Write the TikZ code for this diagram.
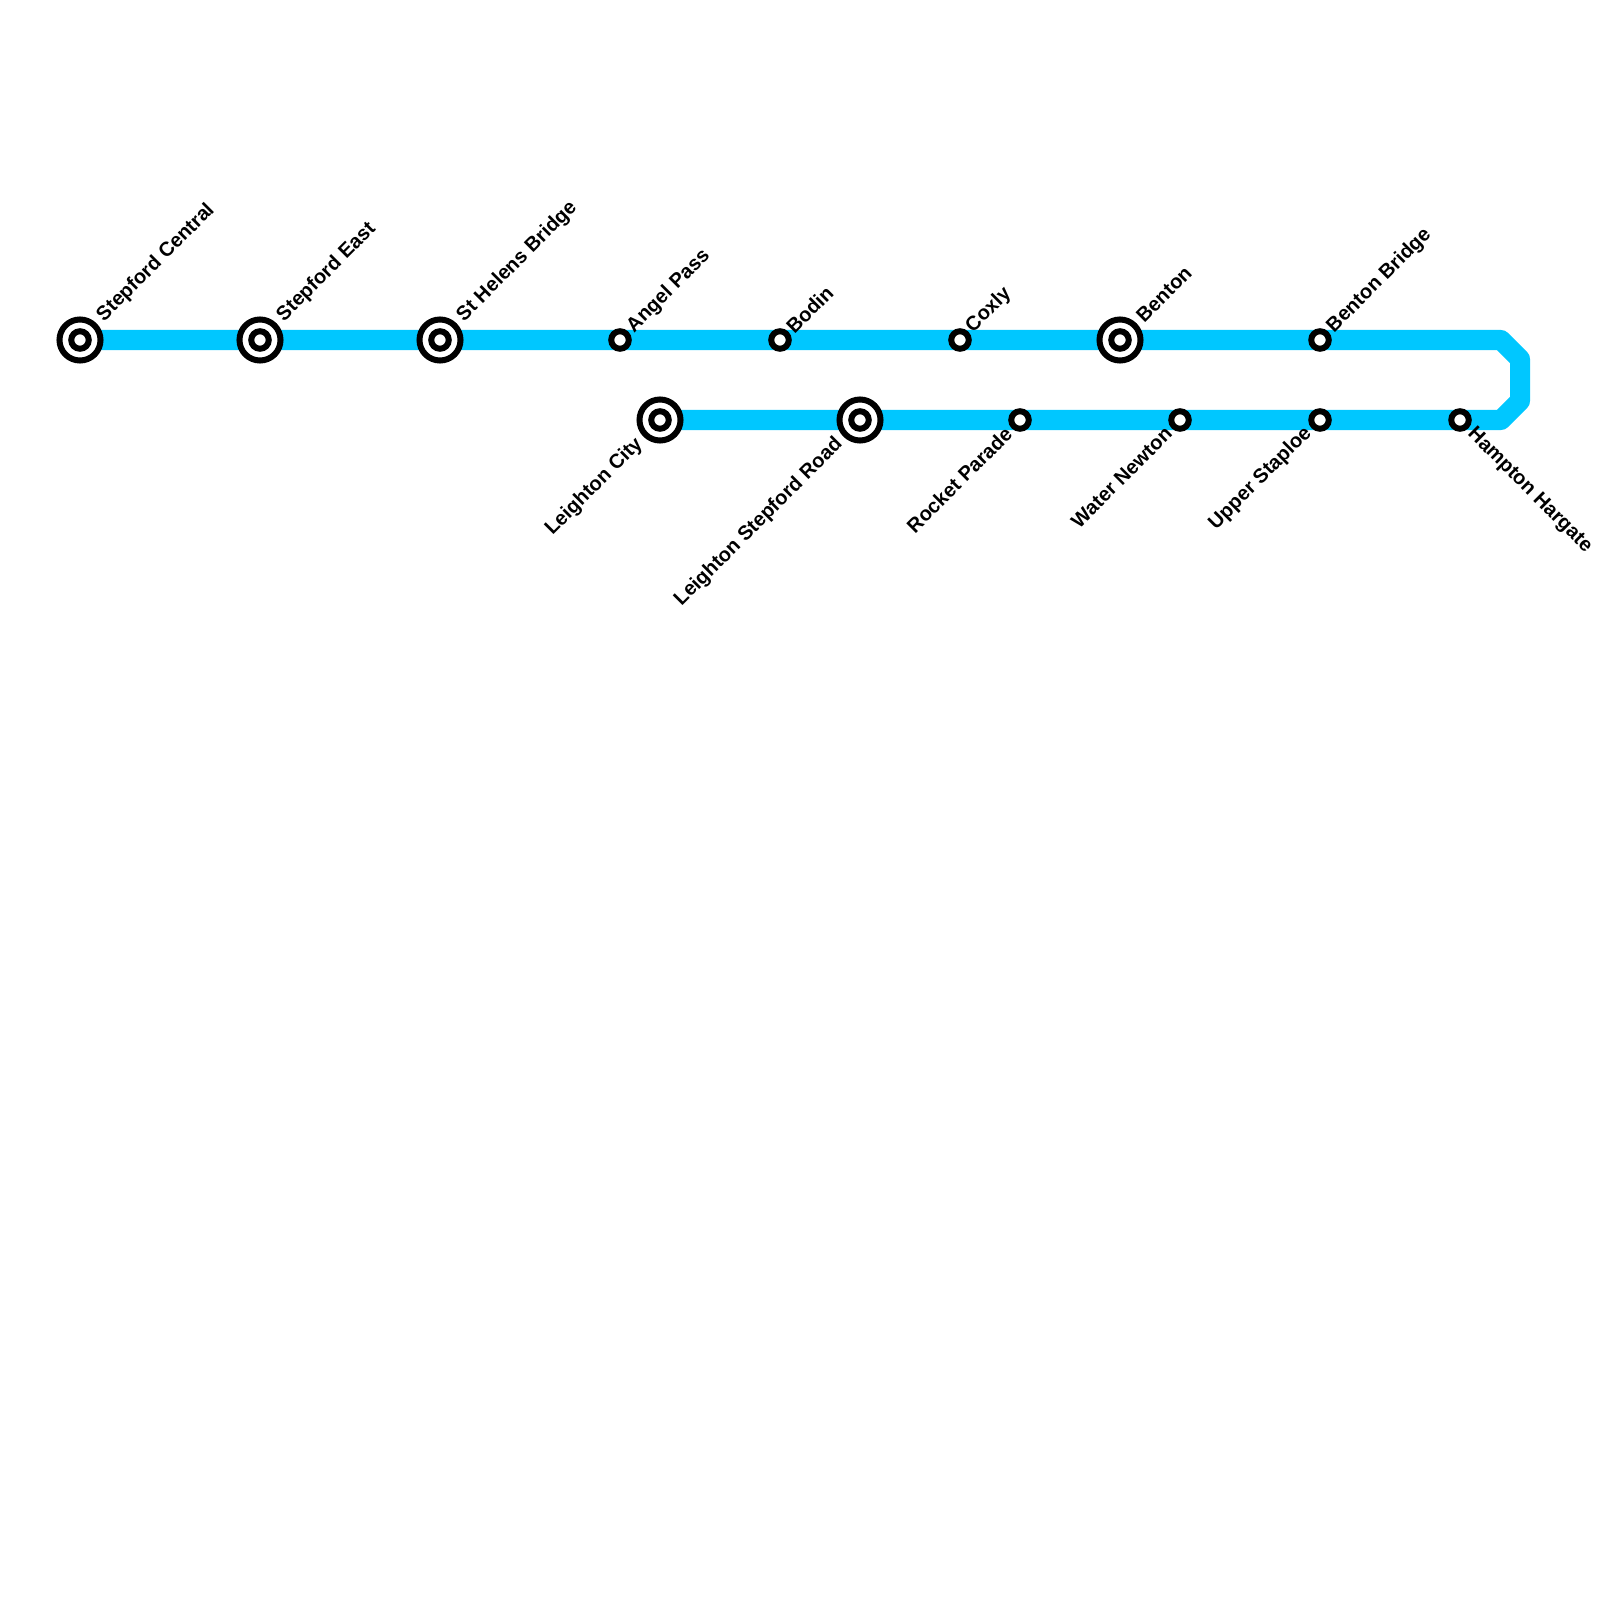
\documentclass[tikz,border=0pt]{standalone}
\usepackage{fontspec}
\setmainfont{Liberation Sans}
\usepackage{xcolor}
\usetikzlibrary{backgrounds}
\definecolor{linecolor}{HTML}{00C7FF}
\tikzset{
	smallstop/.style={circle,draw=black,fill=white,line width=0.06cm,minimum size=0.175cm,inner sep=0pt},
	bigstop/.style={circle,draw=black,fill=white,line width=0.06cm,minimum size=0.41cm,inner sep=0pt,
		path picture={\draw[line width=0.06cm] (path picture bounding box.center) circle (0.0875cm);}},
	uplabel/.style={rotate=45,anchor=west,inner sep=0pt,font=\fontsize{5.7pt}{6pt}\bfseries},
	downlabel/.style={rotate=45,anchor=east,inner sep=0pt,font=\fontsize{5.7pt}{6pt}\bfseries},
	hamptonlabel/.style={rotate=-45,anchor=west,inner sep=0pt,font=\fontsize{5.7pt}{6pt}\bfseries},
	metroline/.style={line width=0.2cm,linecolor,line join=round},
}
\begin{document}
\begin{tikzpicture}[x=0.01cm,y=-0.01cm]
		\useasboundingbox (0,0) rectangle (1600,1600);
		% upper branch
		\node[bigstop] (stepfordcentral) at (80,340) {};
		\node[bigstop] (stepfordeast) at (260,340) {};
		\node[bigstop] (sthelens) at (440,340) {};
		\node[smallstop] (angelpass) at (620,340) {};
		\node[smallstop] (bodin) at (780,340) {};
		\node[smallstop] (coxly) at (960,340) {};
		\node[bigstop] (benton) at (1120,340) {};
		\node[smallstop] (bentonbridge) at (1320,340) {};
		% lower branch
		\node[bigstop] (leightoncity) at (660,420) {};
		\node[bigstop] (leightonstepford) at (860,420) {};
		\node[smallstop] (rocketparade) at (1020,420) {};
		\node[smallstop] (waternewton) at (1180,420) {};
		\node[smallstop] (upperstaploe) at (1320,420) {};
		\node[smallstop] (hampton) at (1460,420) {};
		% bend at the right
		\coordinate (bend1) at (1501,340);
		\coordinate (bend2) at (1520,359);
		\coordinate (bend3) at (1520,401);
		\coordinate (bend4) at (1501,420);
		\begin{scope}[on background layer]
		\draw[metroline] (stepfordcentral.center)--(stepfordeast.center)--(sthelens.center)--(angelpass.center)--(bodin.center)--(coxly.center)--(benton.center)--(bentonbridge.center)--(bend1)--(bend2)--(bend3)--(bend4)--(hampton.center)--(upperstaploe.center)--(waternewton.center)--(rocketparade.center)--(leightonstepford.center)--(leightoncity.center);
		\end{scope}
		% names
		\node[uplabel] (lblstepfordcentral) at (100,319) {Stepford Central};
		\node[uplabel] (lblstepfordeast) at (280,319) {Stepford East};
		\node[uplabel] (lblsthelens) at (460,319) {St Helens Bridge};
		\node[uplabel] (lblangelpass) at (630,330) {Angel Pass};
		\node[uplabel] (lblbodin) at (789,330) {Bodin};
		\node[uplabel] (lblcoxly) at (969,330) {Coxly};
		\node[uplabel] (lblbenton) at (1139,319) {Benton};
		\node[uplabel] (lblbentonbridge) at (1330,330) {Benton Bridge};
		\node[downlabel] (lblleightoncity) at (640,441) {Leighton City};
		\node[downlabel] (lblleightonstepford) at (840,441) {Leighton Stepford Road};
		\node[downlabel] (lblrocketparade) at (1009,430) {Rocket Parade};
		\node[downlabel] (lblwaternewton) at (1169,430) {Water Newton};
		\node[downlabel] (lblupperstaploe) at (1309,430) {Upper Staploe};
		\node[hamptonlabel] (lblhampton) at (1470,431) {Hampton Hargate};
\end{tikzpicture}
\end{document}
